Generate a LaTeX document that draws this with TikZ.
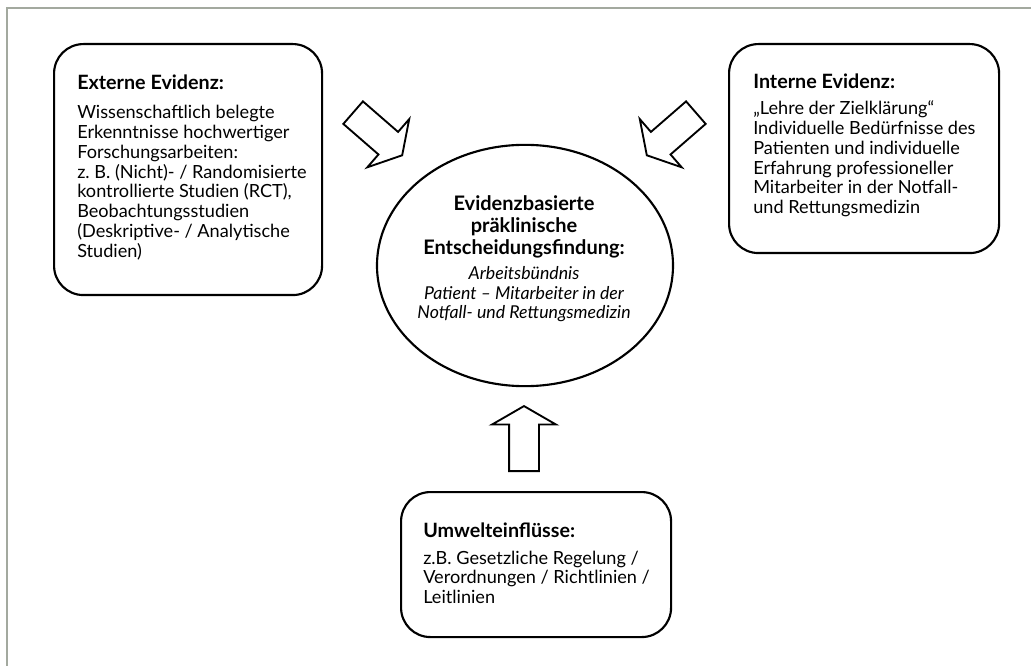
\documentclass[tikz,border=0pt]{standalone}
\usepackage{fontspec}
\setmainfont{Lato}
\usetikzlibrary{shapes.geometric,shapes.arrows}

\definecolor{framegray}{HTML}{A3A99F}

\tikzset{
  evbox/.style={draw=black, line width=1.6pt, rounded corners=22pt,
    anchor=north west, inner sep=0pt},
  heading/.style={anchor=base west, inner sep=0pt,
    font=\fontsize{14.8}{17}\selectfont\bfseries},
  bodytext/.style={anchor=base west, inner sep=0pt,
    font=\fontsize{13.6}{14.8}\selectfont},
  blockarrow/.style={single arrow, draw=black, line width=1.4pt, fill=white,
    inner xsep=0pt, inner ysep=10.5pt, minimum height=48.75pt,
    single arrow head extend=12.75pt, single arrow tip angle=120,
    single arrow head indent=0pt, anchor=tip},
}

\begin{document}
\begin{tikzpicture}[x=0.75pt, y=-0.75pt]
\useasboundingbox (0,0) rectangle (1031,666);
\fill[white] (0,0) rectangle (1031,666);
% outer frame (top and left edges)
\draw[framegray, line width=1.3pt] (7,666) -- (7,8) -- (1031,8);

% boxes
\node[evbox, minimum width=201pt, minimum height=188.25pt] (extern) at (53,43) {};
\node[evbox, minimum width=202.5pt, minimum height=156.75pt] (intern) at (728,43) {};
\node[evbox, minimum width=202.5pt, minimum height=108.75pt] (umwelt) at (400,491) {};

% central ellipse
\node[draw=black, line width=1.6pt, ellipse, inner sep=0pt,
      minimum width=222pt, minimum height=181pt] (ebp) at (525,265.5) {};

% external evidence
\node[heading] (extern-head) at (77,90) {Externe Evidenz:};
\node[bodytext] (extern-body) at (77,119) {\parbox[t]{200pt}{\raggedright
  Wissenschaftlich belegte\\
  Erkenntnisse hochwertiger\\
  Forschungsarbeiten:\\
  z.~B. (Nicht)- / Randomisierte\\
  kontrollierte Studien (RCT),\\
  Beobachtungsstudien\\
  (Deskriptive- / Analytische\\
  Studien)}};

% internal evidence
\node[heading] (intern-head) at (753,89) {Interne Evidenz:};
\node[bodytext] (intern-body) at (753,115) {\parbox[t]{200pt}{\raggedright
  „Lehre der Zielklärung“\\
  Individuelle Bedürfnisse des\\
  Patienten und individuelle\\
  Erfahrung professioneller\\
  Mitarbeiter in der Notfall-\\
  und Rettungsmedizin}};

% environmental influences
\node[heading] (umwelt-head) at (423,537) {Umwelteinflüsse:};
\node[bodytext] (umwelt-body) at (423,564) {\parbox[t]{200pt}{\raggedright
  z.B. Gesetzliche Regelung /\\
  Verordnungen / Richtlinien /\\
  Leitlinien}};

% centre text
\node[anchor=base, inner sep=0pt, font=\fontsize{15}{16.5}\selectfont\bfseries]
  (ebp-head) at (524,211) {\parbox[t]{210pt}{\centering
  Evidenzbasierte\\ präklinische\\ Entscheidungsfindung:}};
\node[anchor=base, inner sep=0pt, font=\fontsize{13.3}{14.4}\selectfont\itshape]
  (ebp-body) at (524,280) {\parbox[t]{210pt}{\centering
  Arbeitsbündnis\\ Patient – Mitarbeiter in der\\ Notfall- und Rettungsmedizin}};

% block arrows towards the centre
\node[blockarrow, rotate=-41] (arr-extern) at (403,156) {};
\node[blockarrow, rotate=-139] (arr-intern) at (646,156) {};
\node[blockarrow, rotate=90] (arr-umwelt) at (524,405) {};
\end{tikzpicture}
\end{document}
